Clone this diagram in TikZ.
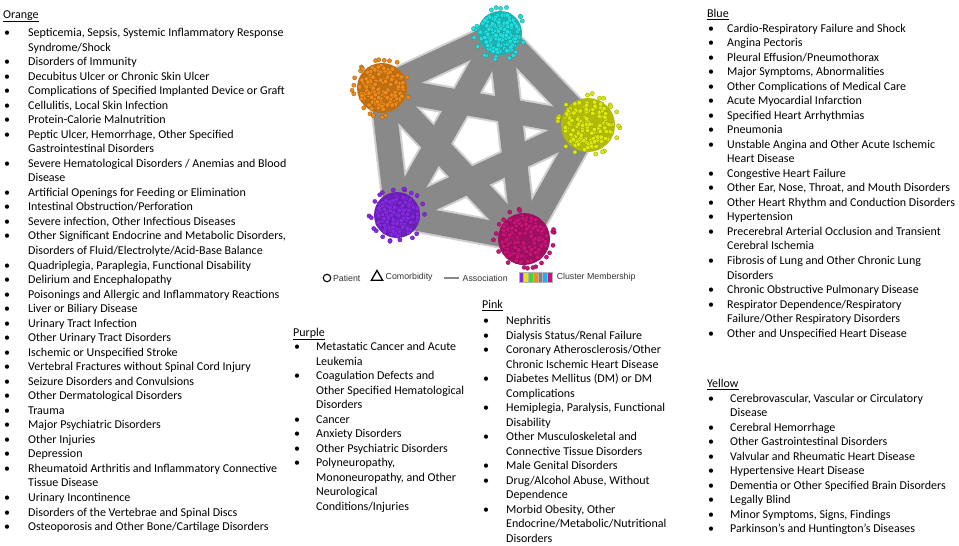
\documentclass[tikz,border=0pt]{standalone}
\usepackage{fontspec}
\setmainfont{Carlito}
\newfontfamily\legendfont{Liberation Sans}
\usetikzlibrary{positioning,shapes.geometric}

\definecolor{clorange}{RGB}{240,140,25}
\definecolor{clcyan}{RGB}{35,225,225}
\definecolor{clyellow}{RGB}{222,234,12}
\definecolor{clpurple}{RGB}{135,40,230}
\definecolor{clpink}{RGB}{200,20,120}
\definecolor{clgreen}{RGB}{60,215,60}
\definecolor{clblue}{RGB}{30,175,240}
\definecolor{bandgray}{RGB}{137,137,137}

% heading row and list body of one cluster
\newcommand{\hd}[1]{\multicolumn{2}{@{}l@{}}{\underline{#1}}}
\newenvironment{dlist}[1]{\begin{tabular}[t]{@{\hspace{1pt}}p{#1}@{}l@{}}}{\end{tabular}}

\begin{document}
\begin{tikzpicture}[x=1pt, y=-1pt,
    band/.style={bandgray, line width=24pt},
    bandhalo/.style={bandgray!40, line width=28pt},
    dot/.style={line width=0.3pt},
    listbox/.style={anchor=base west, inner sep=0pt, font=\fontsize{12}{14.53}\selectfont},
    legend/.style={anchor=west, inner sep=0pt, text=black!80,
        font=\legendfont\fontsize{8.8}{10}\selectfont}]
    \useasboundingbox (0,0) rectangle (959,546);

    % cluster centres
    \coordinate (ccyan)   at (500,33);
    \coordinate (corange) at (382,88);
    \coordinate (cyellow) at (588,125);
    \coordinate (cpurple) at (397,215);
    \coordinate (cpink)   at (524,239);

    % associations: every cluster with every other one
    \foreach \a/\b in {ccyan/corange, ccyan/cyellow, ccyan/cpurple, ccyan/cpink,
                       corange/cyellow, corange/cpurple, corange/cpink,
                       cyellow/cpurple, cyellow/cpink, cpurple/cpink}
        \draw[bandhalo] (\a) -- (\b);
    \foreach \a/\b in {ccyan/corange, ccyan/cyellow, ccyan/cpurple, ccyan/cpink,
                       corange/cyellow, corange/cpurple, corange/cpink,
                       cyellow/cpurple, cyellow/cpink, cpurple/cpink}
        \draw[band] (\a) -- (\b);

    % patients of each cluster as a cloud of dots
    \pgfmathsetseed{7}
    \foreach \cl/\col/\rr in {ccyan/clcyan/23, corange/clorange/26, cyellow/clyellow/28,
                              cpurple/clpurple/24, cpink/clpink/27} {
        \fill[\col!80!black] (\cl) circle (\rr-1);
        \foreach \i in {1,...,150} {
            \pgfmathsetmacro{\ang}{360*rnd}
            \pgfmathsetmacro{\dd}{(\rr-3)*sqrt(rnd)}
            \filldraw[dot, fill=\col, draw=\col!65!black] (\cl) ++(\ang:\dd) circle (2.3);
        }
        % loose dots round the rim
        \foreach \i in {1,...,20} {
            \pgfmathsetmacro{\ang}{360*rnd}
            \pgfmathsetmacro{\dd}{\rr+1+3*rnd}
            \filldraw[dot, fill=\col, draw=\col!65!black] (\cl) ++(\ang:\dd) circle (2.1);
        }
    }

    % legend
    \node[circle, draw, line width=1.1pt, minimum size=7.5pt, inner sep=0pt] (patsym) at (327,278) {};
    \node[legend, right=1.5pt of patsym] (pattext) {Patient};
    \node[regular polygon, regular polygon sides=3, draw, line width=1.3pt,
          minimum size=13pt, inner sep=0pt] (comsym) at (377,277) {};
    \node[legend, right=4pt of comsym] (comtext) {Comorbidity};
    \coordinate (assA) at (444,278);
    \coordinate (assB) at (459,278);
    \draw[bandgray, line width=1.6pt] (assA) -- (assB);
    \node[legend, right=3.5pt of assB] (asstext) {Association};
    \foreach \c [count=\k] in {clpurple, clyellow, clgreen, clorange, gray, clblue, clpink}
        \node[fill=\c, draw=gray!60, line width=0.4pt, minimum width=4.7pt, minimum height=10pt,
              inner sep=0pt] (box\k) at (516.6+4.7*\k, 277.5) {};
    \node[legend, right=4.5pt of box7] (membtext) {Cluster Membership};

    % orange cluster
    \node[listbox] (orangelist) at (3,18) {\begin{dlist}{24pt}
        \hd{Orange}\\[4pt]
        \textbullet & Septicemia, Sepsis, Systemic Inflammatory Response\\
                    & Syndrome/Shock\\
        \textbullet & Disorders of Immunity\\
        \textbullet & Decubitus Ulcer or Chronic Skin Ulcer\\
        \textbullet & Complications of Specified Implanted Device or Graft\\
        \textbullet & Cellulitis, Local Skin Infection\\
        \textbullet & Protein-Calorie Malnutrition\\
        \textbullet & Peptic Ulcer, Hemorrhage, Other Specified\\
                    & Gastrointestinal Disorders\\
        \textbullet & Severe Hematological Disorders / Anemias and Blood\\
                    & Disease\\
        \textbullet & Artificial Openings for Feeding or Elimination\\
        \textbullet & Intestinal Obstruction/Perforation\\
        \textbullet & Severe infection, Other Infectious Diseases\\
        \textbullet & Other Significant Endocrine and Metabolic Disorders,\\
                    & Disorders of Fluid/Electrolyte/Acid-Base Balance\\
        \textbullet & Quadriplegia, Paraplegia, Functional Disability\\
        \textbullet & Delirium and Encephalopathy\\
        \textbullet & Poisonings and Allergic and Inflammatory Reactions\\
        \textbullet & Liver or Biliary Disease\\
        \textbullet & Urinary Tract Infection\\
        \textbullet & Other Urinary Tract Disorders\\
        \textbullet & Ischemic or Unspecified Stroke\\
        \textbullet & Vertebral Fractures without Spinal Cord Injury\\
        \textbullet & Seizure Disorders and Convulsions\\
        \textbullet & Other Dermatological Disorders\\
        \textbullet & Trauma\\
        \textbullet & Major Psychiatric Disorders\\
        \textbullet & Other Injuries\\
        \textbullet & Depression\\
        \textbullet & Rheumatoid Arthritis and Inflammatory Connective\\
                    & Tissue Disease\\
        \textbullet & Urinary Incontinence\\
        \textbullet & Disorders of the Vertebrae and Spinal Discs\\
        \textbullet & Osteoporosis and Other Bone/Cartilage Disorders\\
    \end{dlist}};

    % purple cluster
    \node[listbox] (purplelist) at (293,336) {\begin{dlist}{22pt}
        \hd{Purple}\\
        \textbullet & Metastatic Cancer and Acute\\
                    & Leukemia\\
        \textbullet & Coagulation Defects and\\
                    & Other Specified Hematological\\
                    & Disorders\\
        \textbullet & Cancer\\
        \textbullet & Anxiety Disorders\\
        \textbullet & Other Psychiatric Disorders\\
        \textbullet & Polyneuropathy,\\
                    & Mononeuropathy, and Other\\
                    & Neurological\\
                    & Conditions/Injuries\\
    \end{dlist}};

    % pink cluster
    \node[listbox] (pinklist) at (482,308.5) {\begin{dlist}{23pt}
        \hd{Pink}\\[1.5pt]
        \textbullet & Nephritis\\
        \textbullet & Dialysis Status/Renal Failure\\
        \textbullet & Coronary Atherosclerosis/Other\\
                    & Chronic Ischemic Heart Disease\\
        \textbullet & Diabetes Mellitus (DM) or DM\\
                    & Complications\\
        \textbullet & Hemiplegia, Paralysis, Functional\\
                    & Disability\\
        \textbullet & Other Musculoskeletal and\\
                    & Connective Tissue Disorders\\
        \textbullet & Male Genital Disorders\\
        \textbullet & Drug/Alcohol Abuse, Without\\
                    & Dependence\\
        \textbullet & Morbid Obesity, Other\\
                    & Endocrine/Metabolic/Nutritional\\
                    & Disorders\\
    \end{dlist}};

    % blue cluster
    \node[listbox] (bluelist) at (707,17.5) {\begin{dlist}{19pt}
        \hd{Blue}\\
        \textbullet & Cardio-Respiratory Failure and Shock\\
        \textbullet & Angina Pectoris\\
        \textbullet & Pleural Effusion/Pneumothorax\\
        \textbullet & Major Symptoms, Abnormalities\\
        \textbullet & Other Complications of Medical Care\\
        \textbullet & Acute Myocardial Infarction\\
        \textbullet & Specified Heart Arrhythmias\\
        \textbullet & Pneumonia\\
        \textbullet & Unstable Angina and Other Acute Ischemic\\
                    & Heart Disease\\
        \textbullet & Congestive Heart Failure\\
        \textbullet & Other Ear, Nose, Throat, and Mouth Disorders\\
        \textbullet & Other Heart Rhythm and Conduction Disorders\\
        \textbullet & Hypertension\\
        \textbullet & Precerebral Arterial Occlusion and Transient\\
                    & Cerebral Ischemia\\
        \textbullet & Fibrosis of Lung and Other Chronic Lung\\
                    & Disorders\\
        \textbullet & Chronic Obstructive Pulmonary Disease\\
        \textbullet & Respirator Dependence/Respiratory\\
                    & Failure/Other Respiratory Disorders\\
        \textbullet & Other and Unspecified Heart Disease\\
    \end{dlist}};

    % yellow cluster
    \node[listbox] (yellowlist) at (707,387.5) {\begin{dlist}{22pt}
        \hd{Yellow}\\
        \textbullet & Cerebrovascular, Vascular or Circulatory\\
                    & Disease\\
        \textbullet & Cerebral Hemorrhage\\
        \textbullet & Other Gastrointestinal Disorders\\
        \textbullet & Valvular and Rheumatic Heart Disease\\
        \textbullet & Hypertensive Heart Disease\\
        \textbullet & Dementia or Other Specified Brain Disorders\\
        \textbullet & Legally Blind\\
        \textbullet & Minor Symptoms, Signs, Findings\\
        \textbullet & Parkinson's and Huntington's Diseases\\
    \end{dlist}};
\end{tikzpicture}
\end{document}
